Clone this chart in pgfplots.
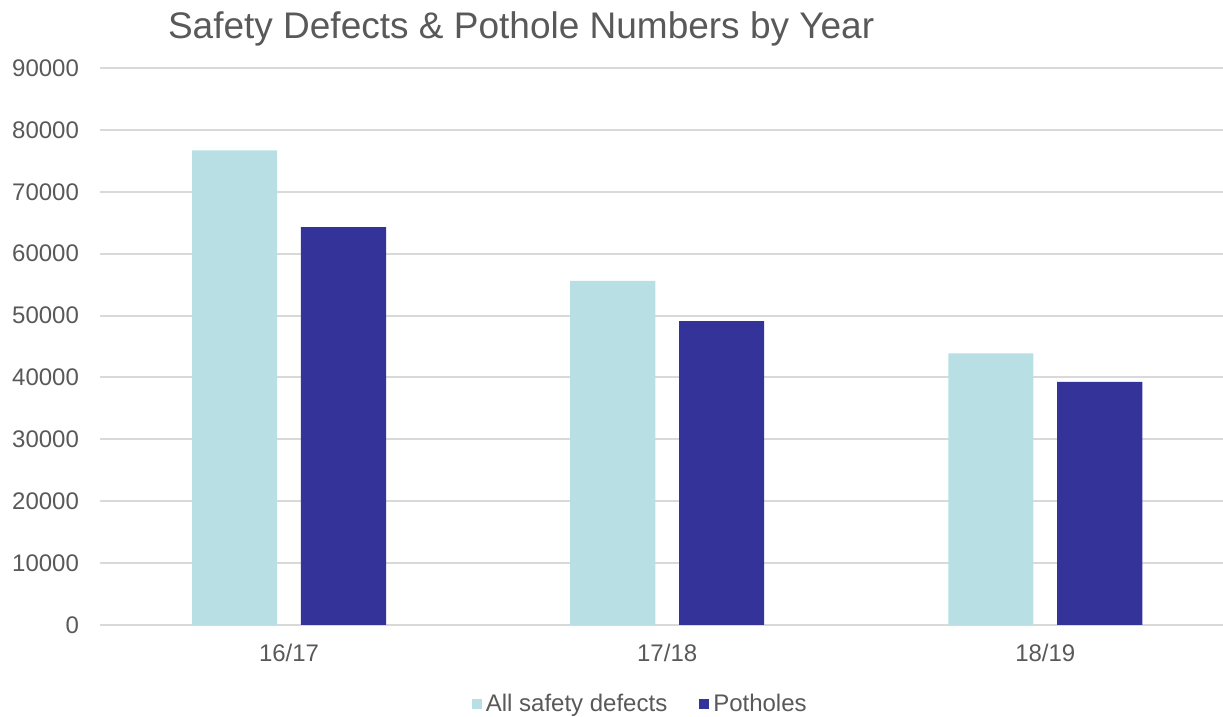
\documentclass[border=0pt]{standalone}
\usepackage{pgfplots}
\pgfplotsset{compat=1.18}
\usepackage{fontspec}
\setmainfont{Liberation Sans}
\definecolor{lightbar}{RGB}{184,224,228}
\definecolor{darkbar}{RGB}{51,51,153}
\definecolor{gridc}{RGB}{217,217,217}
\definecolor{txt}{RGB}{89,89,89}
\begin{document}
\begin{tikzpicture}
\useasboundingbox (-50pt,-46pt) rectangle (561.5pt,312.5pt);
\begin{axis}[
  at={(0,0)}, anchor=south west,
  scale only axis,
  width=561.5pt, height=278.5pt,
  xmin=-0.5, xmax=2.47,
  ymin=0, ymax=90000,
  ytick={0,10000,...,90000},
  xtick={0,1,2},
  xticklabels={16/17,17/18,18/19},
  scaled y ticks=false,
  /pgf/number format/.cd, 1000 sep={}, assume math mode=true,
  /pgfplots/.cd,
  axis line style={draw=none},
  major tick length=0pt,
  ymajorgrids,
  grid style={gridc, line width=1pt},
  tick label style={font=\fontsize{12}{14}\selectfont, text=txt},
  yticklabel style={xshift=-7pt},
  xticklabel style={yshift=-6pt},
  title={Safety Defects \& Pothole Numbers by Year},
  title style={at={(rel axis cs:0.375,1)}, anchor=center, yshift=13.5pt, font=\fontsize{18.5}{22}\selectfont, text=txt},
  legend style={at={(rel axis cs:0.482,0)}, anchor=center, yshift=-39.5pt, draw=none, legend columns=2,
    font=\fontsize{12}{14}\selectfont, text=txt, /tikz/every even column/.append style={column sep=14pt}},
  legend image code/.code={\fill[#1] (0pt,-2.5pt) rectangle (5pt,2.5pt);},
]
\addplot[ybar, bar width=0.225, bar shift=-0.144, fill=lightbar, draw=none] coordinates {(0,76700) (1,55600) (2,43900)};
\addlegendentry{All safety defects}
\addplot[ybar, bar width=0.225, bar shift=0.144, fill=darkbar, draw=none] coordinates {(0,64300) (1,49100) (2,39300)};
\addlegendentry{Potholes}
\end{axis}
\end{tikzpicture}
\end{document}
